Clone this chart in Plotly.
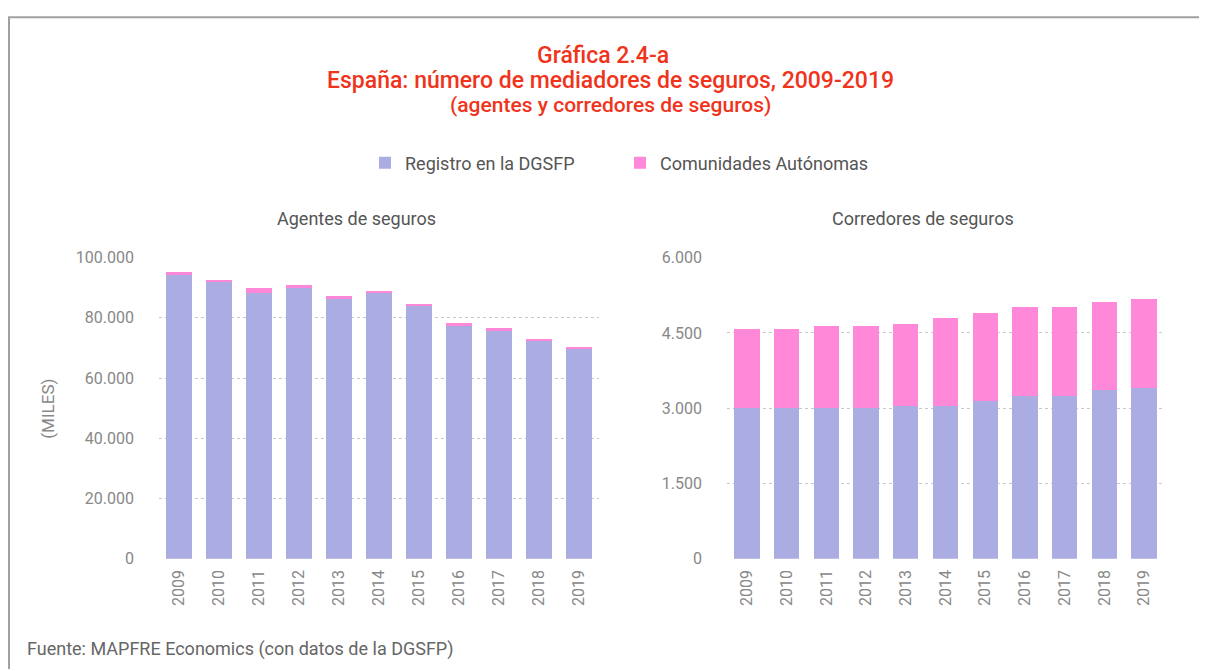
import plotly.graph_objects as go

years = ["2009", "2010", "2011", "2012", "2013", "2014", "2015", "2016", "2017", "2018", "2019"]

agentes_dgsfp = [94400, 91800, 88300, 90000, 86400, 88300, 83800, 77700, 75800, 72300, 69600]
agentes_total = [95300, 92700, 90000, 91000, 87300, 89000, 84700, 78300, 76700, 73000, 70300]
agentes_ccaa = [t - d for t, d in zip(agentes_total, agentes_dgsfp)]

corredores_dgsfp = [3000, 3000, 3000, 3000, 3050, 3050, 3150, 3250, 3250, 3370, 3410]
corredores_total = [4575, 4575, 4640, 4640, 4680, 4800, 4900, 5020, 5020, 5120, 5180]
corredores_ccaa = [t - d for t, d in zip(corredores_total, corredores_dgsfp)]

series_names = ["Registro en la DGSFP", "Comunidades Autónomas"]
colors = ["#AAACE2", "#FF88D8"]

OFF = 8
W, H = 1207 - 2 * OFF, 671
VOFF, VSCALE = 14.65, 0.9733
FONT = "Roboto"
GRAY = "#888888"
DARK = "#555555"
RED = "#F0341C"

def px(x):
    return (x - OFF) / W

def py(y):
    f = (y - VOFF) / VSCALE
    return 1 - f / H

fig = go.Figure()
fig.add_trace(go.Bar(x=years, y=agentes_dgsfp, name=series_names[0], marker_color=colors[0],
                     marker_line_width=0, xaxis="x", yaxis="y", legendgroup="a"))
fig.add_trace(go.Bar(x=years, y=agentes_ccaa, name=series_names[1], marker_color=colors[1],
                     marker_line_width=0, xaxis="x", yaxis="y", legendgroup="b"))
fig.add_trace(go.Bar(x=years, y=corredores_dgsfp, name=series_names[0], marker_color=colors[0],
                     marker_line_width=0, xaxis="x2", yaxis="y2", legendgroup="a", showlegend=False))
fig.add_trace(go.Bar(x=years, y=corredores_ccaa, name=series_names[1], marker_color=colors[1],
                     marker_line_width=0, xaxis="x2", yaxis="y2", legendgroup="b", showlegend=False))

ydom = [py(557.3), py(255.7)]
common_x = dict(tickangle=-90, tickfont=dict(family=FONT, size=16, color=GRAY), showgrid=False,
                showline=False, ticks="", ticklabelstandoff=7, fixedrange=True)
common_y = dict(tickfont=dict(family=FONT, size=16, color=GRAY), showgrid=True, gridcolor="#C8C8C8",
                griddash="dot", gridwidth=1, zeroline=False, showline=False, ticks="",
                tickformat=",d", ticklabelstandoff=24, fixedrange=True)

fig.update_layout(
    width=W, height=H,
    margin=dict(l=0, r=0, t=0, b=0),
    paper_bgcolor="white", plot_bgcolor="white",
    barmode="stack", bargap=0.36,
    separators=",.",
    font=dict(family=FONT, color=DARK),
    xaxis=dict(domain=[px(159), px(599)], anchor="y", **common_x),
    yaxis=dict(domain=ydom, anchor="x", range=[0, 100000], tickvals=[0, 20000, 40000, 60000, 80000, 100000], **common_y),
    xaxis2=dict(domain=[px(727), px(1164)], anchor="y2", **common_x),
    yaxis2=dict(domain=ydom, anchor="x2", range=[0, 6000], tickvals=[0, 1500, 3000, 4500, 6000], **common_y),
    legend=dict(orientation="h", x=px(620), xanchor="center", y=py(161), yanchor="middle",
                font=dict(family=FONT, size=18, color=DARK), itemwidth=30, tracegroupgap=0,
                entrywidth=210, entrywidthmode="pixels",
                bgcolor="rgba(0,0,0,0)"),
    showlegend=True,
)

annotations = [
    dict(text="Gráfica 2.4-a", x=px(603), y=py(53), font=dict(size=23, color=RED, family=FONT, weight=500)),
    dict(text="España: número de mediadores de seguros, 2009-2019", x=px(610), y=py(78), font=dict(size=23, color=RED, family=FONT, weight=500)),
    dict(text="(agentes y corredores de seguros)", x=px(610), y=py(103), font=dict(size=21, color=RED, family=FONT, weight=500)),
    dict(text="Agentes de seguros", x=px(356), y=py(216), font=dict(size=18, color=DARK, family=FONT)),
    dict(text="Corredores de seguros", x=px(923), y=py(216), font=dict(size=18, color=DARK, family=FONT)),
    dict(text="(MILES)", x=px(48), y=py(407), textangle=-90, font=dict(size=17, color=GRAY, family=FONT)),
    dict(text="Fuente: MAPFRE Economics (con datos de la DGSFP)", x=px(25), y=py(648), xanchor="left",
         font=dict(size=18, color="#666666", family=FONT)),
]
for a in annotations:
    a.setdefault("xanchor", "center")
    a.update(xref="paper", yref="paper", yanchor="middle", showarrow=False)
fig.update_layout(annotations=annotations)

top_line = py(15)
fig.update_layout(shapes=[
    dict(type="line", xref="paper", yref="paper", x0=px(8), x1=1.0, y0=top_line, y1=top_line,
         line=dict(color="#A0A0A0", width=2)),
    dict(type="line", xref="paper", yref="paper", x0=px(9), x1=px(9), y0=top_line, y1=0.0,
         line=dict(color="#A0A0A0", width=2)),
])

fig.write_html("out.html")
